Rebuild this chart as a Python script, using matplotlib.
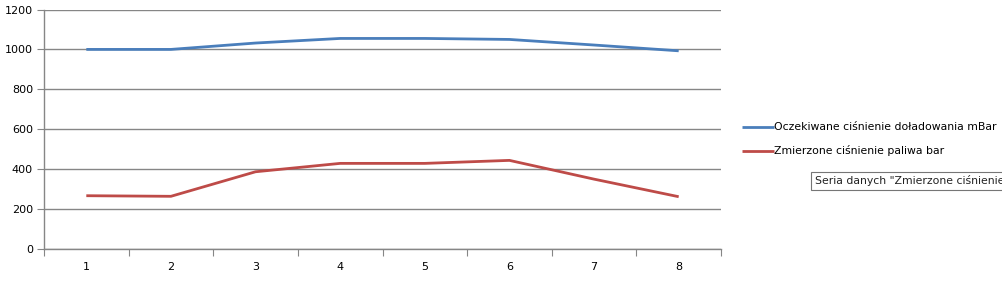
import matplotlib
matplotlib.use("Agg")
import matplotlib.pyplot as plt
import numpy as np

categories = ["1", "2", "3", "4", "5", "6", "7", "8"]
expected_boost = [1000, 1000, 1032, 1055, 1055, 1050, 1022, 993]
fuel_pressure = [267, 264, 387, 429, 429, 444, 350, 262]
series_names = ["Oczekiwane ciśnienie doładowania mBar", "Zmierzone ciśnienie paliwa bar"]
yticks = [0, 200, 400, 600, 800, 1000, 1200]

W, H = 1003, 290
fig = plt.figure(figsize=(W / 100, H / 100), dpi=100)
ax = fig.add_axes([44 / W, 1 - 249 / H, (721 - 44) / W, (249 - 9.5) / H])

x = np.arange(len(categories))
ax.plot(x, expected_boost, color="#4A7EBB", lw=2.0, solid_capstyle="butt", label=series_names[0])
ax.plot(x, fuel_pressure, color="#BE4B48", lw=2.0, solid_capstyle="butt", label=series_names[1])

ax.set_xlim(-0.5, len(categories) - 0.5)
ax.set_ylim(0, 1200)
ax.set_yticks(yticks)
ax.set_yticklabels([str(v) for v in yticks], fontsize=8)
ax.yaxis.grid(True, color="#868686", lw=1)
ax.set_axisbelow(True)

ax.set_xticks(np.arange(-0.5, len(categories), 1.0))
ax.set_xticklabels([])
ax.set_xticks(x, minor=True)
ax.set_xticklabels(categories, minor=True, fontsize=8)
ax.tick_params(axis="x", which="minor", length=0, pad=9)
ax.tick_params(axis="x", which="major", length=5, color="#868686", direction="out")
ax.tick_params(axis="y", length=5, color="#868686", direction="out", pad=3)

for s in ["top", "right"]:
    ax.spines[s].set_visible(False)
for s in ["left", "bottom"]:
    ax.spines[s].set_color("#868686")
    ax.spines[s].set_linewidth(1)

leg = fig.legend(loc="upper left", bbox_to_anchor=(738 / W, 1 - 118 / H), frameon=False,
                 fontsize=7.8, handlelength=2.9, handletextpad=0.05, labelspacing=1.2,
                 borderaxespad=0)

fig.text(815 / W, 1 - 181 / H, 'Seria danych "Zmierzone ciśnienie paliwa bar"', fontsize=7.8,
         color="#222222", va="center", ha="left",
         bbox=dict(boxstyle="square,pad=0.35", fc="white", ec="#767676", lw=0.8))

fig.savefig("out.png", dpi=100)
